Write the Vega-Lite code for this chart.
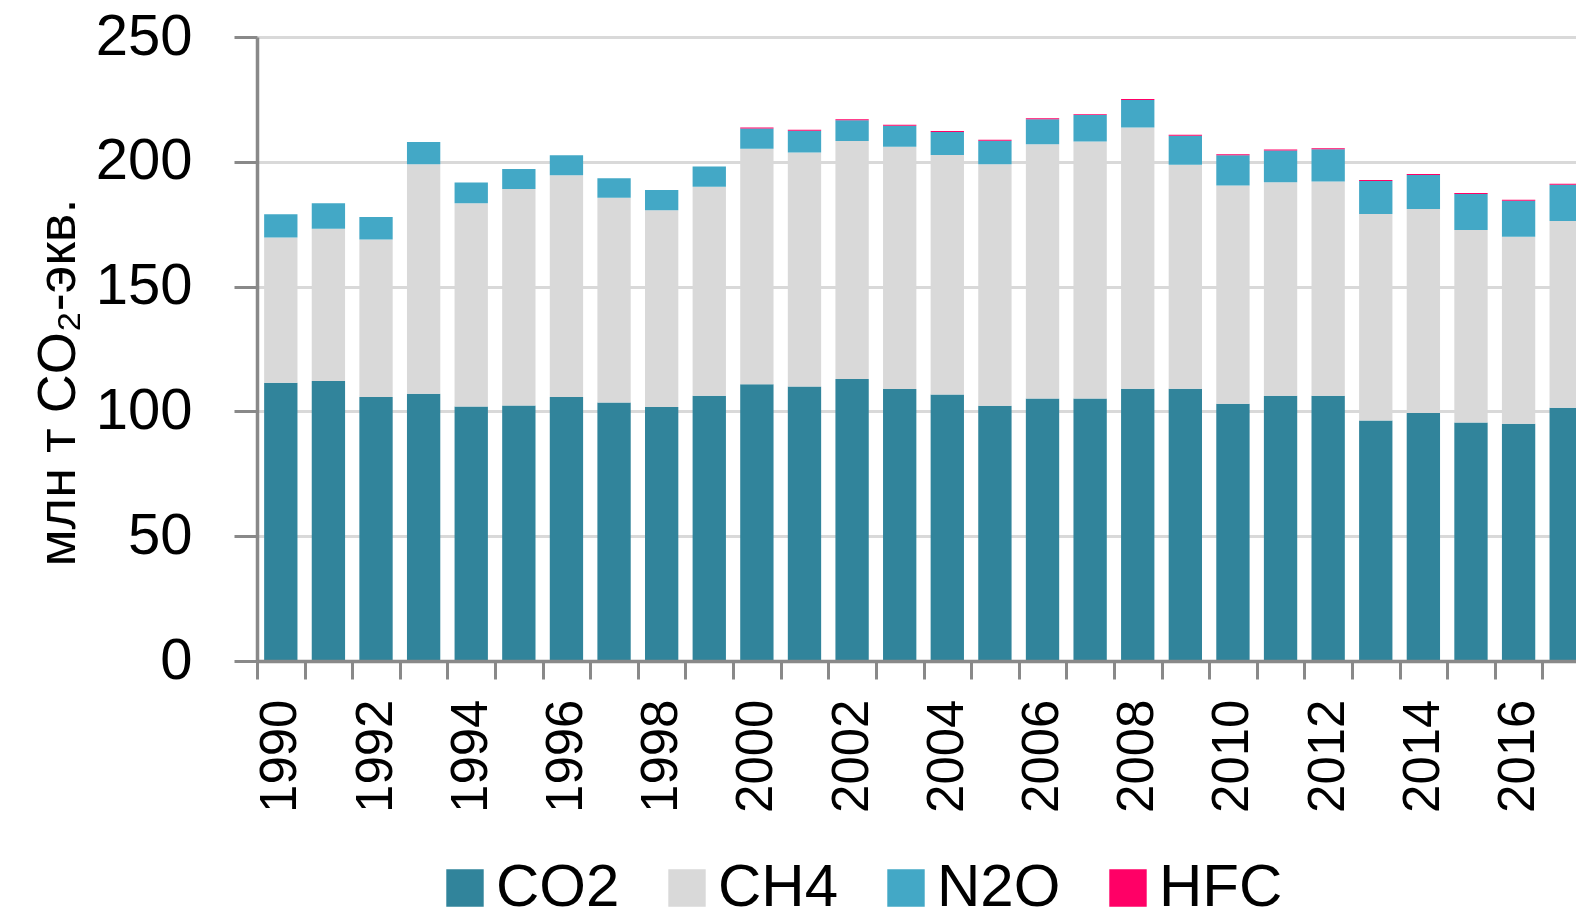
{
  "$schema": "https://vega.github.io/schema/vega-lite/v6.json",
  "autosize": {"type": "none"},
  "padding": {"left": 257, "top": 37, "right": 0, "bottom": 257},
  "width": 1319,
  "height": 624,
  "background": "white",
  "config": {
    "view": {"stroke": null},
    "font": "Liberation Sans"
  },
  "data": {"values": [
    {"year":1990,"gas":"CO2","v":111.5,"k":1},{"year":1990,"gas":"CH4","v":58.2,"k":2},{"year":1990,"gas":"N2O","v":9.3,"k":3},{"year":1990,"gas":"HFC","v":0,"k":4},
    {"year":1991,"gas":"CO2","v":112.2,"k":1},{"year":1991,"gas":"CH4","v":61.0,"k":2},{"year":1991,"gas":"N2O","v":10.2,"k":3},{"year":1991,"gas":"HFC","v":0,"k":4},
    {"year":1992,"gas":"CO2","v":105.8,"k":1},{"year":1992,"gas":"CH4","v":63.1,"k":2},{"year":1992,"gas":"N2O","v":9.0,"k":3},{"year":1992,"gas":"HFC","v":0,"k":4},
    {"year":1993,"gas":"CO2","v":107.1,"k":1},{"year":1993,"gas":"CH4","v":91.9,"k":2},{"year":1993,"gas":"N2O","v":8.9,"k":3},{"year":1993,"gas":"HFC","v":0,"k":4},
    {"year":1994,"gas":"CO2","v":102.0,"k":1},{"year":1994,"gas":"CH4","v":81.4,"k":2},{"year":1994,"gas":"N2O","v":8.3,"k":3},{"year":1994,"gas":"HFC","v":0,"k":4},
    {"year":1995,"gas":"CO2","v":102.4,"k":1},{"year":1995,"gas":"CH4","v":86.7,"k":2},{"year":1995,"gas":"N2O","v":8.0,"k":3},{"year":1995,"gas":"HFC","v":0,"k":4},
    {"year":1996,"gas":"CO2","v":105.8,"k":1},{"year":1996,"gas":"CH4","v":88.8,"k":2},{"year":1996,"gas":"N2O","v":8.0,"k":3},{"year":1996,"gas":"HFC","v":0,"k":4},
    {"year":1997,"gas":"CO2","v":103.6,"k":1},{"year":1997,"gas":"CH4","v":82.0,"k":2},{"year":1997,"gas":"N2O","v":7.8,"k":3},{"year":1997,"gas":"HFC","v":0,"k":4},
    {"year":1998,"gas":"CO2","v":101.8,"k":1},{"year":1998,"gas":"CH4","v":78.8,"k":2},{"year":1998,"gas":"N2O","v":8.1,"k":3},{"year":1998,"gas":"HFC","v":0,"k":4},
    {"year":1999,"gas":"CO2","v":106.3,"k":1},{"year":1999,"gas":"CH4","v":83.7,"k":2},{"year":1999,"gas":"N2O","v":8.1,"k":3},{"year":1999,"gas":"HFC","v":0,"k":4},
    {"year":2000,"gas":"CO2","v":110.9,"k":1},{"year":2000,"gas":"CH4","v":94.3,"k":2},{"year":2000,"gas":"N2O","v":8.1,"k":3},{"year":2000,"gas":"HFC","v":0.4,"k":4},
    {"year":2001,"gas":"CO2","v":110.0,"k":1},{"year":2001,"gas":"CH4","v":93.7,"k":2},{"year":2001,"gas":"N2O","v":8.7,"k":3},{"year":2001,"gas":"HFC","v":0.4,"k":4},
    {"year":2002,"gas":"CO2","v":113.0,"k":1},{"year":2002,"gas":"CH4","v":95.3,"k":2},{"year":2002,"gas":"N2O","v":8.3,"k":3},{"year":2002,"gas":"HFC","v":0.4,"k":4},
    {"year":2003,"gas":"CO2","v":109.0,"k":1},{"year":2003,"gas":"CH4","v":97.0,"k":2},{"year":2003,"gas":"N2O","v":8.4,"k":3},{"year":2003,"gas":"HFC","v":0.4,"k":4},
    {"year":2004,"gas":"CO2","v":106.8,"k":1},{"year":2004,"gas":"CH4","v":95.9,"k":2},{"year":2004,"gas":"N2O","v":9.2,"k":3},{"year":2004,"gas":"HFC","v":0.4,"k":4},
    {"year":2005,"gas":"CO2","v":102.3,"k":1},{"year":2005,"gas":"CH4","v":96.7,"k":2},{"year":2005,"gas":"N2O","v":9.4,"k":3},{"year":2005,"gas":"HFC","v":0.4,"k":4},
    {"year":2006,"gas":"CO2","v":105.2,"k":1},{"year":2006,"gas":"CH4","v":101.8,"k":2},{"year":2006,"gas":"N2O","v":10.0,"k":3},{"year":2006,"gas":"HFC","v":0.4,"k":4},
    {"year":2007,"gas":"CO2","v":105.2,"k":1},{"year":2007,"gas":"CH4","v":102.9,"k":2},{"year":2007,"gas":"N2O","v":10.6,"k":3},{"year":2007,"gas":"HFC","v":0.4,"k":4},
    {"year":2008,"gas":"CO2","v":109.1,"k":1},{"year":2008,"gas":"CH4","v":104.6,"k":2},{"year":2008,"gas":"N2O","v":11.1,"k":3},{"year":2008,"gas":"HFC","v":0.4,"k":4},
    {"year":2009,"gas":"CO2","v":109.1,"k":1},{"year":2009,"gas":"CH4","v":89.7,"k":2},{"year":2009,"gas":"N2O","v":11.6,"k":3},{"year":2009,"gas":"HFC","v":0.4,"k":4},
    {"year":2010,"gas":"CO2","v":103.1,"k":1},{"year":2010,"gas":"CH4","v":87.4,"k":2},{"year":2010,"gas":"N2O","v":12.1,"k":3},{"year":2010,"gas":"HFC","v":0.4,"k":4},
    {"year":2011,"gas":"CO2","v":106.3,"k":1},{"year":2011,"gas":"CH4","v":85.5,"k":2},{"year":2011,"gas":"N2O","v":12.7,"k":3},{"year":2011,"gas":"HFC","v":0.4,"k":4},
    {"year":2012,"gas":"CO2","v":106.3,"k":1},{"year":2012,"gas":"CH4","v":85.8,"k":2},{"year":2012,"gas":"N2O","v":12.9,"k":3},{"year":2012,"gas":"HFC","v":0.4,"k":4},
    {"year":2013,"gas":"CO2","v":96.4,"k":1},{"year":2013,"gas":"CH4","v":82.7,"k":2},{"year":2013,"gas":"N2O","v":13.2,"k":3},{"year":2013,"gas":"HFC","v":0.4,"k":4},
    {"year":2014,"gas":"CO2","v":99.4,"k":1},{"year":2014,"gas":"CH4","v":81.7,"k":2},{"year":2014,"gas":"N2O","v":13.6,"k":3},{"year":2014,"gas":"HFC","v":0.4,"k":4},
    {"year":2015,"gas":"CO2","v":95.6,"k":1},{"year":2015,"gas":"CH4","v":77.1,"k":2},{"year":2015,"gas":"N2O","v":14.4,"k":3},{"year":2015,"gas":"HFC","v":0.4,"k":4},
    {"year":2016,"gas":"CO2","v":95.1,"k":1},{"year":2016,"gas":"CH4","v":74.9,"k":2},{"year":2016,"gas":"N2O","v":14.4,"k":3},{"year":2016,"gas":"HFC","v":0.4,"k":4},
    {"year":2017,"gas":"CO2","v":101.5,"k":1},{"year":2017,"gas":"CH4","v":74.8,"k":2},{"year":2017,"gas":"N2O","v":14.5,"k":3},{"year":2017,"gas":"HFC","v":0.4,"k":4}
  ]},
  "mark": {"type": "bar", "width": {"band": 0.7}},
  "encoding": {
    "x": {
      "field": "year",
      "type": "ordinal",
      "scale": {"range": [0, 1333], "paddingInner": 0, "paddingOuter": 0},
      "axis": {
        "title": null,
        "zindex": 1,
        "tickBand": "extent",
        "tickSize": 18,
        "tickWidth": 3,
        "tickColor": "#898989",
        "domainColor": "#898989",
        "domainWidth": 3.5,
        "labelAngle": 270,
        "labelFont": "Liberation Sans",
        "labelFontSize": 51,
        "labelColor": "#000000",
        "labelPadding": 20,
        "labelOverlap": false,
        "labelExpr": "datum.value % 2 == 0 ? datum.label : ''"
      }
    },
    "y": {
      "field": "v",
      "type": "quantitative",
      "stack": "zero",
      "scale": {"domain": [0, 250], "nice": false},
      "axis": {
        "values": [0, 50, 100, 150, 200, 250],
        "title": "млн  т CO₂-экв.",
        "titleFont": "Liberation Sans",
        "titleFontSize": 54,
        "titleFontWeight": "normal",
        "titleColor": "#000000",
        "titleAngle": 270,
        "titleAlign": "center",
        "titleBaseline": "alphabetic",
        "titleX": -183,
        "titleY": 345,
        "domainColor": "#898989",
        "domainWidth": 3.5,
        "tickColor": "#898989",
        "tickWidth": 3,
        "tickSize": 23,
        "gridColor": "#D9D9D9",
        "gridWidth": 3,
        "labelFont": "Liberation Sans",
        "labelFontSize": 58,
        "labelColor": "#000000",
        "labelPadding": 42
      }
    },
    "color": {
      "field": "gas",
      "type": "nominal",
      "scale": {"domain": ["CO2", "CH4", "N2O", "HFC"], "range": ["#31849B", "#D9D9D9", "#43A8C6", "#FF0066"]},
      "legend": {
        "title": null,
        "orient": "none",
        "direction": "horizontal",
        "legendX": 178,
        "legendY": 821,
        "padding": 0,
        "symbolType": "square",
        "symbolSize": 1400,
        "symbolStrokeWidth": 0,
        "labelFont": "Liberation Sans",
        "labelFontSize": 60,
        "labelColor": "#000000",
        "labelOffset": 1,
        "columnPadding": 37,
        "labelLimit": 0
      }
    },
    "order": {"field": "k", "type": "quantitative"}
  }
}
